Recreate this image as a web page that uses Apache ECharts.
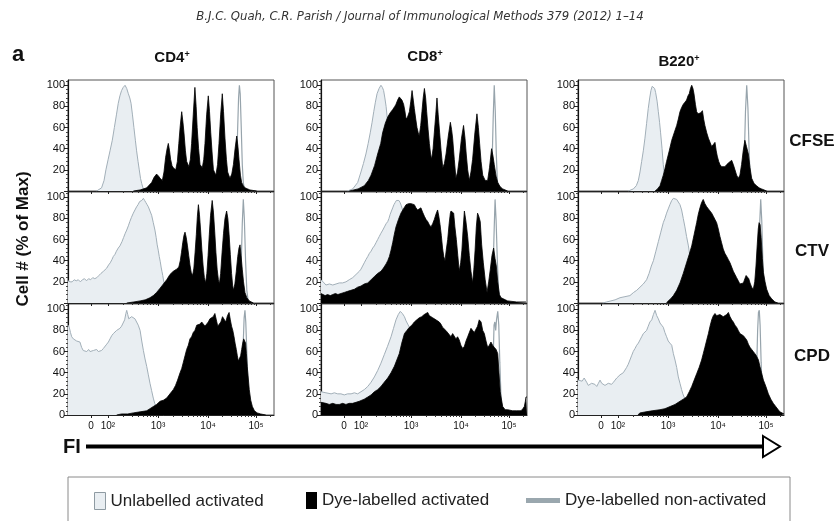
<!DOCTYPE html>
<html><head><meta charset="utf-8">
<script src="https://cdn.jsdelivr.net/npm/echarts@6/dist/echarts.min.js"></script>
<style>html,body{margin:0;padding:0;background:#fff}#chart{width:839px;height:521px}</style>
</head><body><div id="chart"></div>
<script>
// ---------- labels ----------
const columnTitles = ['CD4', 'CD8', 'B220'];
const rowTitles = ['CFSE', 'CTV', 'CPD'];
const seriesNames = ['Unlabelled activated', 'Dye-labelled activated', 'Dye-labelled non-activated'];
// x axis: logicle display channel (0..1000); decade tick positions and labels
const xTickValues = [112, 194, 437, 680, 913];
const xTickLabels = ['0', '10²', '10³', '10⁴', '10⁵'];
const yTickValues = [0, 20, 40, 60, 80, 100];

// ---------- data: [display channel, cell # (% of max)] ----------
// CD4+ / CFSE
const cd4CfseUnlab = [[139,0],[163,3],[175,10],[184,20],[195,30],[204,38],[215,48],[225,60],[235,72],[244,83],[252,90],[260,95],[268,98],[277,100],[285,97],[293,92],[300,88],[306,83],[313,72],[320,60],[327,48],[333,38],[340,28],[346,20],[352,12],[358,7],[364,3],[369,0]];
const cd4CfseNon = [[800,0],[810,3],[817,20],[823,55],[828,88],[832,100],[836,92],[841,60],[846,25],[851,8],[858,0]];
const cd4CfseDye = [[317,0],[350,1],[382,3],[406,8],[418,13],[430,16],[440,14],[447,12],[458,10],[466,18],[474,32],[481,40],[487,45],[493,38],[498,30],[505,24],[511,22],[523,20],[531,28],[538,45],[545,62],[552,75],[558,65],[563,55],[570,38],[576,28],[587,23],[594,30],[600,45],[608,72],[616,98],[622,80],[627,60],[634,40],[641,25],[652,22],[659,30],[665,45],[673,72],[681,90],[687,75],[693,55],[700,35],[706,20],[718,15],[726,25],[733,45],[741,72],[749,92],[755,75],[762,50],[769,30],[775,18],[786,12],[795,16],[803,25],[811,40],[819,52],[825,42],[830,30],[837,15],[843,8],[851,5],[859,3],[872,2],[883,1],[916,0]];
// CD8+ / CFSE
const cd8CfseUnlab = [[129,0],[154,2],[178,8],[194,18],[206,26],[218,35],[229,45],[239,55],[248,65],[256,75],[264,84],[272,92],[282,97],[291,100],[298,98],[304,95],[310,88],[316,80],[322,68],[327,55],[334,42],[340,30],[348,18],[356,10],[364,5],[372,2],[388,0]];
const cd8CfseNon = [[815,0],[824,4],[831,30],[836,70],[841,100],[846,75],[851,35],[856,10],[864,0]];
const cd8CfseDye = [[137,0],[180,2],[210,5],[230,10],[243,15],[260,24],[275,35],[290,45],[299,55],[312,64],[324,70],[336,74],[348,77],[358,80],[364,82],[372,86],[380,89],[385,90],[393,86],[401,82],[407,76],[413,68],[420,70],[429,75],[436,85],[442,95],[448,86],[453,78],[460,68],[466,60],[472,55],[477,52],[484,62],[490,75],[496,88],[502,97],[508,88],[513,75],[520,58],[526,45],[532,35],[537,30],[544,40],[550,55],[557,72],[563,88],[569,72],[576,55],[583,38],[591,22],[599,26],[607,35],[618,52],[628,65],[634,58],[639,50],[647,30],[655,12],[663,18],[671,30],[682,50],[692,62],[699,50],[705,35],[712,20],[720,10],[728,18],[736,30],[747,55],[757,73],[764,60],[770,45],[777,28],[785,15],[797,10],[809,10],[818,22],[828,40],[835,33],[841,25],[850,14],[858,8],[870,4],[882,2],[906,0]];
// B220+ / CFSE
const b220CfseUnlab = [[244,0],[269,2],[283,5],[293,10],[301,18],[309,28],[317,38],[325,50],[333,64],[341,78],[348,88],[354,95],[360,99],[366,100],[372,97],[377,93],[384,85],[390,75],[396,65],[401,55],[408,40],[414,25],[420,15],[427,8],[435,3],[443,0]];
const b220CfseNon = [[790,0],[800,4],[807,30],[813,75],[819,100],[825,78],[831,35],[837,8],[845,0]];
const b220CfseDye = [[374,0],[386,2],[398,5],[406,10],[414,15],[422,21],[430,28],[443,38],[455,48],[467,55],[479,62],[487,68],[495,75],[503,79],[511,82],[519,84],[527,86],[534,90],[540,92],[546,97],[552,100],[558,97],[563,92],[570,82],[576,75],[583,73],[589,72],[596,74],[604,76],[610,68],[616,62],[625,55],[633,50],[641,46],[649,42],[657,44],[665,46],[671,38],[676,33],[683,28],[689,25],[697,23],[705,22],[713,23],[722,25],[733,27],[746,29],[754,25],[762,20],[770,15],[778,12],[786,15],[794,25],[802,38],[810,48],[818,42],[827,35],[835,22],[843,12],[855,7],[867,5],[879,3],[891,2],[916,0]];
// CD4+ / CTV
const cd4CtvUnlab = [[0,21],[10,20],[20,20],[30,22],[40,21],[50,22],[60,20],[70,22],[80,23],[90,21],[100,23],[110,22],[120,24],[130,23],[140,24],[150,26],[160,28],[172,30],[180,31],[188,33],[197,36],[205,38],[213,41],[220,44],[228,46],[235,49],[244,52],[252,54],[262,58],[270,62],[278,66],[285,69],[293,73],[300,77],[308,81],[317,85],[325,88],[333,91],[340,93],[348,96],[358,97],[366,99],[372,97],[378,95],[384,93],[390,91],[398,87],[406,83],[414,76],[422,69],[428,62],[433,55],[438,50],[443,44],[448,39],[452,34],[456,30],[460,26],[465,20],[470,15],[475,10],[479,7],[484,4],[487,2],[495,0]];
const cd4CtvNon = [[823,0],[833,4],[840,30],[846,75],[851,98],[856,80],[862,40],[868,12],[876,0]];
const cd4CtvDye = [[285,0],[320,1],[350,2],[375,3],[398,5],[414,7],[430,10],[447,14],[463,18],[479,22],[495,27],[511,30],[527,32],[538,34],[545,40],[551,48],[557,57],[563,64],[568,67],[574,62],[580,54],[586,45],[592,36],[598,29],[605,26],[611,33],[617,48],[623,65],[628,82],[633,93],[638,84],[644,68],[650,50],[656,35],[662,24],[668,19],[674,28],[680,45],[686,65],[692,83],[700,97],[706,86],[712,68],[718,48],[724,32],[730,22],[735,18],[741,28],[748,48],[755,66],[762,80],[770,87],[776,80],[782,65],[788,46],[794,28],[799,17],[803,12],[810,18],[817,30],[824,44],[830,52],[835,55],[840,45],[846,32],[852,20],[859,10],[868,5],[880,2],[900,0]];
// CD8+ / CTV
const cd8CtvUnlab = [[0,22],[8,21],[15,19],[24,17],[32,16],[41,18],[50,18],[57,17],[65,17],[73,18],[80,19],[89,19],[97,18],[105,19],[113,20],[121,20],[129,21],[137,22],[145,23],[154,24],[162,25],[170,27],[178,28],[186,30],[194,32],[202,35],[210,38],[218,41],[227,44],[235,47],[243,49],[251,52],[259,54],[267,57],[275,60],[283,63],[291,66],[300,69],[308,72],[316,75],[324,77],[330,80],[336,84],[342,87],[348,90],[354,93],[360,95],[366,97],[372,98],[378,97],[384,95],[390,92],[396,88],[403,82],[410,75],[418,66],[426,56],[434,46],[442,36],[450,27],[460,18],[470,10],[480,5],[490,2],[500,0]];
const cd8CtvNon = [[818,0],[828,4],[835,30],[841,72],[845,98],[850,78],[856,40],[862,12],[872,0]];
const cd8CtvDye = [[0,9],[8,8],[20,7],[32,8],[45,7],[57,8],[70,9],[82,8],[97,9],[113,10],[129,11],[145,12],[162,13],[178,15],[194,16],[210,18],[227,19],[243,22],[259,25],[275,28],[291,30],[303,33],[316,37],[324,40],[332,44],[340,50],[348,57],[356,65],[364,72],[376,79],[388,85],[400,89],[413,93],[425,94],[437,94],[445,93],[453,93],[461,90],[469,88],[477,89],[485,90],[493,86],[502,82],[510,79],[518,77],[526,74],[534,72],[542,75],[550,79],[558,84],[566,88],[572,82],[578,74],[584,64],[590,52],[596,44],[602,40],[608,50],[615,60],[622,75],[628,85],[631,87],[636,86],[644,85],[650,72],[657,60],[664,45],[671,30],[678,38],[684,50],[690,70],[696,87],[703,78],[712,63],[720,45],[728,30],[736,19],[742,32],[748,50],[754,72],[760,85],[766,82],[773,77],[780,55],[788,38],[797,22],[806,10],[814,20],[822,32],[830,45],[838,52],[845,42],[851,35],[858,20],[866,8],[874,5],[882,4],[895,3],[906,2],[950,1],[995,1]];
// B220+ / CTV
const b220CtvUnlab = [[120,0],[139,1],[160,2],[180,3],[204,5],[228,6],[252,7],[270,10],[285,12],[301,15],[317,18],[333,22],[345,28],[356,35],[366,40],[378,49],[390,58],[402,67],[414,76],[422,80],[430,85],[438,89],[446,93],[455,97],[463,99],[471,99],[479,98],[487,97],[495,93],[503,88],[511,80],[519,72],[527,63],[536,54],[544,43],[552,32],[560,23],[568,16],[576,11],[584,7],[592,4],[600,2],[608,0]];
const b220CtvNon = [[860,0],[870,5],[877,35],[882,75],[887,98],[892,78],[898,35],[904,8],[912,0]];
const b220CtvDye = [[430,0],[438,2],[450,4],[463,7],[479,12],[495,19],[511,28],[527,38],[540,46],[552,54],[564,65],[576,76],[584,84],[592,90],[600,95],[608,98],[616,94],[625,91],[633,89],[641,88],[649,85],[657,82],[665,79],[673,76],[681,70],[689,63],[697,57],[705,51],[713,47],[722,44],[730,41],[738,38],[746,34],[754,30],[762,27],[770,24],[778,21],[786,18],[794,17],[803,19],[810,23],[816,26],[822,27],[829,23],[835,19],[843,15],[851,13],[858,20],[864,35],[870,55],[875,70],[879,76],[884,74],[889,62],[895,42],[900,29],[908,20],[916,13],[928,7],[940,4],[956,1],[970,0]];
// CD4+ / CPD
const cd4CpdUnlab = [[0,85],[6,83],[12,78],[18,74],[26,72],[34,71],[42,70],[50,69],[58,69],[66,64],[74,61],[82,60],[91,60],[100,62],[107,60],[115,61],[123,61],[131,60],[139,62],[147,60],[155,60],[163,61],[172,63],[180,64],[188,67],[196,69],[204,72],[212,75],[220,77],[228,78],[236,80],[244,80],[252,82],[260,84],[269,85],[275,90],[281,96],[285,99],[290,95],[295,91],[301,91],[309,93],[317,93],[325,91],[333,90],[341,85],[350,80],[358,70],[366,61],[374,53],[382,46],[390,38],[398,30],[406,23],[414,16],[421,11],[427,8],[437,4],[447,2],[463,0]];
const cd4CpdNon = [[830,0],[838,8],[845,30],[851,70],[855,92],[859,99],[863,88],[868,60],[874,25],[880,5],[888,0]];
const cd4CpdDye = [[236,0],[260,1],[290,1],[317,2],[350,3],[382,4],[398,6],[414,8],[430,10],[447,13],[463,14],[479,16],[495,20],[511,24],[522,28],[532,33],[544,40],[552,44],[560,50],[568,56],[576,62],[584,66],[592,72],[600,74],[608,78],[616,80],[625,85],[633,84],[641,86],[649,88],[657,88],[665,84],[673,84],[681,88],[689,91],[697,90],[705,93],[713,96],[720,90],[727,84],[735,83],[742,88],[750,93],[758,92],[766,88],[774,94],[782,97],[788,90],[794,84],[800,80],[806,74],[811,68],[817,62],[822,56],[827,51],[832,50],[838,56],[843,62],[848,68],[853,72],[858,73],[862,68],[866,58],[870,46],[875,35],[880,24],[887,14],[895,8],[905,4],[918,2],[935,1],[960,0]];
// CD8+ / CPD
const cd8CpdUnlab = [[0,22],[8,22],[24,21],[49,20],[65,21],[81,20],[97,20],[113,19],[129,20],[146,20],[162,21],[178,20],[194,22],[210,24],[227,27],[243,31],[259,36],[275,42],[291,49],[307,57],[323,65],[340,74],[352,82],[364,90],[375,95],[385,98],[395,96],[405,93],[413,89],[421,86],[429,83],[437,80],[445,76],[453,70],[461,62],[470,50],[480,38],[490,25],[500,15],[510,8],[520,3],[530,0]];
const cd8CpdNon = [[820,0],[828,10],[834,40],[840,85],[844,88],[848,80],[852,90],[858,98],[863,85],[868,50],[874,15],[882,0]];
const cd8CpdDye = [[0,12],[8,12],[24,11],[40,10],[57,11],[73,10],[89,10],[105,11],[121,10],[137,11],[153,11],[170,12],[186,13],[194,14],[210,15],[227,17],[243,19],[259,22],[275,24],[291,27],[307,31],[324,35],[340,40],[356,46],[368,52],[380,58],[392,68],[405,77],[417,80],[429,83],[441,85],[453,88],[465,90],[477,92],[489,93],[501,95],[510,94],[518,97],[526,94],[534,95],[542,92],[550,93],[558,90],[566,89],[574,88],[582,86],[590,83],[598,82],[606,80],[615,80],[623,76],[631,74],[639,77],[647,77],[655,72],[663,74],[671,71],[679,66],[688,63],[696,65],[704,70],[712,74],[720,75],[728,82],[736,82],[744,78],[752,77],[760,84],[768,90],[777,88],[785,80],[793,77],[801,70],[809,64],[817,66],[825,69],[833,66],[841,64],[850,62],[858,58],[864,40],[870,22],[874,17],[882,8],[894,5],[906,5],[930,4],[950,4],[971,4],[980,6],[987,8],[992,13],[995,17],[1000,17]];
// B220+ / CPD
const b220CpdUnlab = [[0,33],[6,33],[20,32],[30,35],[42,31],[50,28],[58,28],[66,30],[74,31],[82,29],[91,27],[99,30],[107,33],[115,30],[123,29],[131,28],[139,28],[147,30],[155,31],[163,29],[172,31],[180,33],[188,35],[196,36],[204,38],[212,39],[220,40],[228,41],[236,45],[244,48],[252,52],[260,56],[268,60],[277,63],[285,66],[293,68],[301,71],[309,74],[317,77],[325,78],[333,80],[341,84],[349,88],[358,90],[366,95],[374,99],[382,94],[390,91],[398,87],[406,85],[414,83],[422,78],[430,74],[438,70],[446,68],[455,66],[463,58],[471,52],[479,45],[487,36],[495,30],[503,24],[509,20],[515,17],[521,15],[527,14],[535,9],[544,5],[552,2],[560,0]];
const b220CpdNon = [[850,0],[858,6],[866,35],[872,80],[876,97],[880,99],[884,85],[889,50],[895,15],[902,0]];
const b220CpdDye = [[290,0],[301,2],[330,3],[360,4],[398,5],[422,6],[447,8],[471,10],[495,13],[511,15],[527,17],[540,22],[552,27],[564,33],[576,39],[588,45],[600,52],[608,58],[616,64],[625,71],[633,77],[641,84],[649,90],[657,94],[665,96],[673,94],[681,93],[689,95],[697,96],[705,93],[714,93],[722,95],[730,97],[738,93],[746,90],[754,88],[762,85],[770,83],[778,80],[786,77],[794,76],[803,75],[811,74],[819,71],[827,67],[835,64],[843,62],[851,60],[859,58],[866,56],[870,55],[876,52],[883,46],[891,40],[900,33],[912,27],[924,20],[936,15],[948,11],[960,8],[972,5],[980,3],[989,2],[1000,1]];

// panel order: rows (dyes) x columns (cell types); each = [unlabelled, dye-labelled, non-activated]
const panelData = [
  [[cd4CfseUnlab, cd4CfseDye, cd4CfseNon], [cd8CfseUnlab, cd8CfseDye, cd8CfseNon], [b220CfseUnlab, b220CfseDye, b220CfseNon]],
  [[cd4CtvUnlab, cd4CtvDye, cd4CtvNon], [cd8CtvUnlab, cd8CtvDye, cd8CtvNon], [b220CtvUnlab, b220CtvDye, b220CtvNon]],
  [[cd4CpdUnlab, cd4CpdDye, cd4CpdNon], [cd8CpdUnlab, cd8CpdDye, cd8CpdNon], [b220CpdUnlab, b220CpdDye, b220CpdNon]]
];

// ---------- layout / style ----------
const FONT = '"Liberation Sans", Arial, "DejaVu Sans", sans-serif';
const gridLefts = [68, 321, 578], gridTops = [80, 192, 304], gridW = 206, gridH = 111;
const colUnlabFill = '#e9eef2', colUnlabLine = '#a2afb8', colNonLine = '#97a4ac';

// log minor tick positions between decade ticks
const decades = xTickValues.slice(1);
const xMinor = [];
for (let d = 0; d < decades.length; d++) {
  const a = decades[d], b = d + 1 < decades.length ? decades[d + 1] : decades[d] + (decades[d] - decades[d - 1]);
  for (let k = 2; k <= 9; k++) { const v = a + Math.log10(k) * (b - a); if (v <= 1000) xMinor.push(Math.round(v)); }
}

const grids = [], xAxes = [], yAxes = [], series = [];
for (let r = 0; r < 3; r++) {
  for (let c = 0; c < 3; c++) {
    const g = r * 3 + c;
    grids.push({ left: gridLefts[c], top: gridTops[r], width: gridW, height: gridH, show: true, borderColor: '#555', borderWidth: 1, backgroundColor: '#fff' });
    xAxes.push({
      gridIndex: g, type: 'value', min: 0, max: 1000, position: 'bottom',
      axisLine: { show: true, onZero: false, lineStyle: { color: '#222', width: 1.2 } },
      axisTick: { show: true, customValues: xTickValues, length: 3, lineStyle: { color: '#222' } },
      axisLabel: { show: r === 2, customValues: xTickValues, formatter: v => { const i = xTickValues.indexOf(v); return i >= 0 ? xTickLabels[i] : ''; }, fontSize: 10, color: '#111', margin: 6, fontFamily: FONT },
      splitLine: { show: false }
    });
    xAxes.push({
      gridIndex: g, type: 'value', min: 0, max: 1000, position: 'bottom',
      axisLine: { show: false },
      axisTick: { show: true, customValues: xMinor, length: 2, lineStyle: { color: '#333' } },
      axisLabel: { show: false }, splitLine: { show: false }
    });
    yAxes.push({
      gridIndex: g, type: 'value', min: 0, max: 105, interval: 20,
      axisLine: { show: true, lineStyle: { color: '#111', width: 1.2 } },
      axisTick: { show: true, customValues: yTickValues, length: 4, lineStyle: { color: '#222' } },
      minorTick: { show: true, splitNumber: 5, length: 2, lineStyle: { color: '#444' } },
      axisLabel: { customValues: r === 2 ? yTickValues : yTickValues.slice(1), fontSize: 11, color: '#111', margin: 3, fontFamily: FONT },
      splitLine: { show: false }
    });
    const [unlab, dye, non] = panelData[r][c];
    series.push({ name: seriesNames[0], type: 'line', xAxisIndex: 2 * g, yAxisIndex: g, data: unlab, showSymbol: false, symbol: 'none',
      lineStyle: { color: colUnlabLine, width: 1 }, areaStyle: { color: colUnlabFill, opacity: 1 }, z: 2 });
    series.push({ name: seriesNames[2], type: 'line', xAxisIndex: 2 * g, yAxisIndex: g, data: non, showSymbol: false, symbol: 'none',
      lineStyle: { color: colNonLine, width: 1.2 }, z: 3 });
    series.push({ name: seriesNames[1], type: 'line', xAxisIndex: 2 * g, yAxisIndex: g, data: dye, showSymbol: false, symbol: 'none',
      lineStyle: { color: '#000', width: 0.8 }, areaStyle: { color: '#000', opacity: 1 }, z: 4 });
  }
}

const colCenters = [172, 425, 679], colTitleY = [58, 57, 62];
const rowCenters = [141, 251, 356];
const graphics = [
  { type: 'text', x: 420, y: 17, style: { text: 'B.J.C. Quah, C.R. Parish / Journal of Immunological Methods 379 (2012) 1–14', font: 'italic 13px "Liberation Sans Narrow", "DejaVu Sans Condensed", sans-serif', fill: '#333', textAlign: 'center', textVerticalAlign: 'middle' } },
  { type: 'text', x: 12, y: 55, style: { text: 'a', font: 'bold 22px ' + FONT, fill: '#111', textAlign: 'left', textVerticalAlign: 'middle' } },
  { type: 'text', x: 23, y: 239, rotation: Math.PI / 2, style: { text: 'Cell # (% of Max)', font: 'bold 17px ' + FONT, fill: '#111', textAlign: 'center', textVerticalAlign: 'middle' } },
  { type: 'text', x: 63, y: 447, style: { text: 'FI', font: 'bold 20px ' + FONT, fill: '#111', textAlign: 'left', textVerticalAlign: 'middle' } },
  { type: 'line', shape: { x1: 86, y1: 446.5, x2: 764, y2: 446.5 }, style: { stroke: '#000', lineWidth: 4 } },
  { type: 'polygon', shape: { points: [[763, 436], [780, 446.5], [763, 457]] }, style: { fill: '#fff', stroke: '#000', lineWidth: 2 } },
  { type: 'rect', shape: { x: 68, y: 477, width: 722, height: 60 }, style: { fill: 'none', stroke: '#8a8a8a', lineWidth: 1 } }
];
columnTitles.forEach((t, i) => graphics.push({ type: 'text', x: colCenters[i], y: colTitleY[i], style: {
  text: '{b|' + t + '}{s|+}', textAlign: 'center', textVerticalAlign: 'middle',
  rich: { b: { font: 'bold 15px ' + FONT, fill: '#111' }, s: { font: 'bold 9px ' + FONT, fill: '#111', verticalAlign: 'top' } } } }));
rowTitles.forEach((t, i) => graphics.push({ type: 'text', x: 812, y: rowCenters[i], style: { text: t, font: 'bold 17px ' + FONT, fill: '#111', textAlign: 'center', textVerticalAlign: 'middle' } }));

const legendText = { fontSize: 17, color: '#222', fontFamily: FONT };
const option = {
  animation: false,
  backgroundColor: '#fff',
  grid: grids, xAxis: xAxes, yAxis: yAxes, series: series,
  legend: [
    { data: [{ name: seriesNames[0], icon: 'rect', itemStyle: { color: colUnlabFill, borderColor: '#8e9aa2', borderWidth: 1 } }],
      left: 89, top: 487, itemWidth: 11, itemHeight: 17, itemGap: 0, selectedMode: false, textStyle: legendText },
    { data: [{ name: seriesNames[1], icon: 'rect', itemStyle: { color: '#000', borderWidth: 0 } }],
      left: 301, top: 487, itemWidth: 11, itemHeight: 17, itemGap: 0, selectedMode: false, textStyle: legendText },
    { data: [{ name: seriesNames[2], icon: 'rect', itemStyle: { color: '#9aa7ae', borderWidth: 0 } }],
      left: 521, top: 487, itemWidth: 34, itemHeight: 5, itemGap: 0, selectedMode: false, textStyle: legendText }
  ],
  graphic: graphics
};
const chart = echarts.init(document.getElementById('chart'), null, { renderer: 'canvas' });
chart.setOption(option);
</script></body></html>
